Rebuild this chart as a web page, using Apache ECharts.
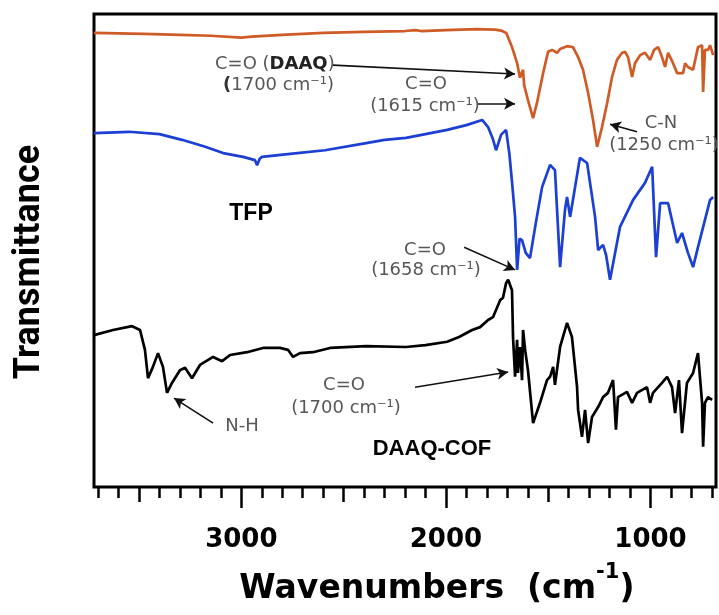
<!DOCTYPE html>
<html>
<head>
<meta charset="utf-8">
<script src="https://cdn.jsdelivr.net/npm/echarts@6/dist/echarts.min.js"></script>
<style>
html,body{margin:0;padding:0;background:#ffffff;}
#chart{width:719px;height:615px;}
</style>
</head>
<body>
<div id="chart"></div>
<script>
// ---- tick labels (cm^-1) ----
const xTickLabels = [1000, 2000, 3000];

// ---- spectra: [wavenumber (cm^-1), transmittance (a.u., offset)] ----
const daaq = [
  [3720,96.0],[3600,95.9],[3480,95.8],[3300,95.6],[3150,95.4],[3000,95.0],[2950,95.2],[2800,95.6],
  [2600,96.0],[2400,96.2],[2200,96.4],[2150,96.6],[2120,96.4],[2000,96.6],[1850,96.8],[1760,96.7],
  [1730,96.5],[1705,96.0],[1677,93.0],[1652,89.6],[1638,86.5],[1623,88.2],[1618,85.0],[1599,81.8],
  [1574,78.0],[1555,81.2],[1525,87.5],[1501,92.0],[1481,92.4],[1457,91.8],[1442,92.6],[1408,93.2],
  [1379,93.0],[1354,90.9],[1330,88.2],[1305,83.3],[1281,77.6],[1261,71.9],[1237,76.1],[1212,81.2],
  [1188,86.7],[1164,90.3],[1139,91.8],[1124,92.0],[1110,90.9],[1090,86.7],[1076,89.6],[1051,91.3],
  [1027,91.8],[1002,90.3],[983,92.4],[963,93.0],[944,90.9],[929,88.8],[914,91.8],[890,89.6],
  [870,87.5],[841,87.5],[831,89.6],[817,88.8],[792,88.2],[768,93.0],[748,93.4],[743,83.5],
  [734,92.4],[719,92.4],[709,93.4],[694,91.3]
];

const tfp = [
  [3720,74.8],[3549,75.1],[3400,74.6],[3290,73.4],[3180,72.0],[3089,70.6],[2992,69.8],[2933,69.1],
  [2923,68.0],[2910,69.4],[2899,69.8],[2750,70.5],[2591,71.2],[2390,72.7],[2300,73.4],[2195,73.8],
  [2100,74.6],[1994,75.5],[1900,76.5],[1823,77.6],[1794,76.1],[1770,73.5],[1755,71.2],[1730,74.5],
  [1706,75.5],[1690,70.5],[1677,64.5],[1662,57.1],[1652,45.9],[1640,52.5],[1628,52.2],[1610,49.5],
  [1589,48.4],[1560,56.0],[1530,63.4],[1491,68.1],[1467,67.0],[1442,46.5],[1418,58.6],[1408,61.3],
  [1393,57.1],[1345,69.6],[1310,68.5],[1271,57.1],[1256,50.1],[1232,51.2],[1217,49.0],[1198,43.8],
  [1149,55.0],[1085,60.7],[1027,64.3],[992,67.7],[973,48.6],[953,60.0],[914,60.0],[870,51.6],
  [846,53.7],[817,49.5],[792,46.5],[768,50.7],[709,60.7],[694,61.3]
];

const daaqCof = [
  [3720,32.1],[3627,33.2],[3534,34.0],[3495,33.2],[3471,29.0],[3456,23.0],[3432,25.4],[3407,28.3],
  [3383,25.4],[3363,19.9],[3339,22.0],[3300,24.7],[3275,25.2],[3241,23.0],[3202,25.8],[3138,27.5],
  [3094,26.6],[3055,27.9],[2972,28.5],[2894,29.4],[2811,29.4],[2772,29.0],[2747,27.5],[2713,28.3],
  [2650,28.5],[2566,29.4],[2390,29.8],[2195,29.6],[2100,30.0],[1994,30.7],[1936,31.7],[1872,33.2],
  [1833,33.8],[1794,35.3],[1770,35.9],[1735,39.5],[1721,40.0],[1706,43.1],[1696,43.8],[1677,41.6],
  [1672,31.7],[1662,23.3],[1652,31.1],[1648,24.1],[1638,29.6],[1628,22.6],[1623,33.2],[1613,29.0],
  [1599,24.7],[1574,13.5],[1540,17.8],[1506,22.6],[1491,23.3],[1476,25.4],[1467,21.6],[1442,29.6],
  [1408,34.7],[1384,31.7],[1359,21.1],[1354,16.3],[1335,10.6],[1320,16.3],[1305,9.3],[1286,14.8],
  [1256,16.9],[1232,19.0],[1208,19.9],[1183,22.6],[1169,12.1],[1159,19.0],[1115,20.1],[1090,17.8],
  [1066,19.9],[1017,21.1],[1002,17.8],[988,19.9],[944,22.0],[919,23.3],[895,21.1],[880,15.6],
  [861,22.6],[846,11.4],[822,22.0],[792,24.1],[768,28.3],[748,17.8],[743,8.5],[734,17.8],
  [719,19.0],[699,18.4]
];

// ---- annotation arrows, in data units: [from, to] ----
const arrowDAAQ = [[2552, 89.2], [1662, 87.3]];
const arrow1615 = [[1843, 81.0], [1662, 81.0]];
const arrowCN   = [[1066, 75.1], [1198, 76.7]];
const arrow1658 = [[1911, 50.7], [1662, 45.9]];
const arrowCOF  = [[2151, 21.1], [1696, 24.3]];
const arrowNH   = [[3138, 13.5], [3329, 18.8]];

const chart = echarts.init(document.getElementById('chart'), null, {renderer: 'canvas'});

function arrows(list) {
  return {
    silent: true,
    symbol: ['none', 'arrow'],
    symbolSize: [9, 11],
    label: {show: false},
    lineStyle: {color: '#111', width: 1.6, type: 'solid'},
    emphasis: {disabled: true},
    data: list.map(a => [{coord: a[0]}, {coord: a[1]}])
  };
}

const PX = 622 / 3040;   // pixels per cm^-1 of the plotting grid
const LEFT = 94, TOP = 14, H = 473;
function tickGrid(maxV, minV) {
  return {left: LEFT + (3720 - maxV) * PX, top: TOP, width: (maxV - minV) * PX, height: H,
          containLabel: false, outerBoundsMode: 'none'};
}
function tickAxis(idx, minV, maxV, interval, len) {
  return {
    gridIndex: idx, type: 'value', min: minV, max: maxV, interval: interval, inverse: true,
    axisLine: {show: false}, splitLine: {show: false},
    axisTick: {show: true, length: len, lineStyle: {color: '#000', width: 2.5}},
    axisLabel: {show: false}
  };
}

const grey = '#575757';
const annFont = 'DejaVu Sans';

const option = {
  animation: false,
  backgroundColor: '#ffffff',
  grid: [
    {left: LEFT, top: TOP, width: 622, height: H, show: true, borderColor: '#000', borderWidth: 3,
     backgroundColor: 'transparent', containLabel: false, outerBoundsMode: 'none'},
    tickGrid(3700, 700),
    tickGrid(3500, 1000),
    tickGrid(3000, 1000)
  ],
  xAxis: [
    {gridIndex: 0, type: 'value', min: 680, max: 3720, inverse: true, show: false},
    tickAxis(1, 700, 3700, 100, 11),
    tickAxis(2, 1000, 3500, 500, 15),
    Object.assign(tickAxis(3, 1000, 3000, 1000, 21), {
      axisLabel: {
        show: true, showMinLabel: true, showMaxLabel: true, margin: 40,
        fontFamily: 'DejaVu Sans', fontWeight: 'bold', fontSize: 26, color: '#000',
        formatter: v => xTickLabels.includes(v) ? String(v) : ''
      },
      name: '{t|Wavenumbers  (cm}{s|-1}{t|)}',
      nameLocation: 'middle',
      nameGap: 75,
      nameTextStyle: {
        padding: [0, 18, 0, 0],
        rich: {
          t: {fontFamily: 'DejaVu Sans', fontWeight: 'bold', fontSize: 33, lineHeight: 54, color: '#000'},
          s: {fontFamily: 'DejaVu Sans', fontWeight: 'bold', fontSize: 21, lineHeight: 22, verticalAlign: 'top', color: '#000'}
        }
      }
    })
  ],
  yAxis: [
    {gridIndex: 0, type: 'value', min: 0, max: 100, show: false},
    {gridIndex: 1, type: 'value', show: false},
    {gridIndex: 2, type: 'value', show: false},
    {gridIndex: 3, type: 'value', show: false}
  ],
  series: [
    {name: 'DAAQ', type: 'line', xAxisIndex: 0, yAxisIndex: 0, data: daaq, showSymbol: false, symbol: 'none',
     lineStyle: {color: '#CF5C26', width: 2.7}, itemStyle: {color: '#CF5C26'}, emphasis: {disabled: true},
     markLine: arrows([arrowDAAQ, arrow1615, arrowCN]), z: 3},
    {name: 'TFP', type: 'line', xAxisIndex: 0, yAxisIndex: 0, data: tfp, showSymbol: false, symbol: 'none',
     lineStyle: {color: '#1C3FD4', width: 2.7}, itemStyle: {color: '#1C3FD4'}, emphasis: {disabled: true},
     markLine: arrows([arrow1658]), z: 3},
    {name: 'DAAQ-COF', type: 'line', xAxisIndex: 0, yAxisIndex: 0, data: daaqCof, showSymbol: false, symbol: 'none',
     lineStyle: {color: '#000000', width: 2.7}, itemStyle: {color: '#000'}, emphasis: {disabled: true},
     markLine: arrows([arrowCOF, arrowNH]), z: 3}
  ],
  graphic: [
    {type: 'text', x: 30, y: 262, rotation: Math.PI / 2,
     style: {text: 'Transmittance', fontFamily: 'Roboto', fontWeight: 'bold', fontSize: 36, fill: '#000',
             align: 'center', verticalAlign: 'middle'}},
    {type: 'text', x: 215, y: 64,
     style: {text: '{a|C=O (}{b|DAAQ}{a|)}', align: 'left', verticalAlign: 'middle',
             rich: {a: {fontFamily: annFont, fontSize: 18, fill: grey},
                    b: {fontFamily: annFont, fontSize: 18, fontWeight: 'bold', fill: '#222'}}}},
    {type: 'text', x: 223, y: 85,
     style: {text: '{b|(}{a|1700 cm⁻¹)}', align: 'left', verticalAlign: 'middle',
             rich: {a: {fontFamily: annFont, fontSize: 18, fill: grey},
                    b: {fontFamily: annFont, fontSize: 18, fontWeight: 'bold', fill: '#333'}}}},
    {type: 'text', x: 426, y: 84, style: {text: 'C=O', fontFamily: annFont, fontSize: 18, fill: grey, align: 'center', verticalAlign: 'middle'}},
    {type: 'text', x: 425, y: 106, style: {text: '(1615 cm⁻¹)', fontFamily: annFont, fontSize: 18, fill: grey, align: 'center', verticalAlign: 'middle'}},
    {type: 'text', x: 661, y: 123, style: {text: 'C-N', fontFamily: annFont, fontSize: 18, fill: grey, align: 'center', verticalAlign: 'middle'}},
    {type: 'text', x: 664, y: 145, style: {text: '(1250 cm⁻¹)', fontFamily: annFont, fontSize: 18, fill: grey, align: 'center', verticalAlign: 'middle'}},
    {type: 'text', x: 251, y: 214, style: {text: 'TFP', fontFamily: 'Liberation Sans', fontWeight: 'bold', fontSize: 23, fill: '#000', align: 'center', verticalAlign: 'middle'}},
    {type: 'text', x: 425, y: 250, style: {text: 'C=O', fontFamily: annFont, fontSize: 18, fill: grey, align: 'center', verticalAlign: 'middle'}},
    {type: 'text', x: 426, y: 270, style: {text: '(1658 cm⁻¹)', fontFamily: annFont, fontSize: 18, fill: grey, align: 'center', verticalAlign: 'middle'}},
    {type: 'text', x: 344, y: 385, style: {text: 'C=O', fontFamily: annFont, fontSize: 18, fill: grey, align: 'center', verticalAlign: 'middle'}},
    {type: 'text', x: 346, y: 408, style: {text: '(1700 cm⁻¹)', fontFamily: annFont, fontSize: 18, fill: grey, align: 'center', verticalAlign: 'middle'}},
    {type: 'text', x: 242, y: 426, style: {text: 'N-H', fontFamily: annFont, fontSize: 18, fill: grey, align: 'center', verticalAlign: 'middle'}},
    {type: 'text', x: 432, y: 449, style: {text: 'DAAQ-COF', fontFamily: 'Liberation Sans', fontWeight: 'bold', fontSize: 22, fill: '#000', align: 'center', verticalAlign: 'middle'}}
  ]
};

chart.setOption(option);
</script>
</body>
</html>
